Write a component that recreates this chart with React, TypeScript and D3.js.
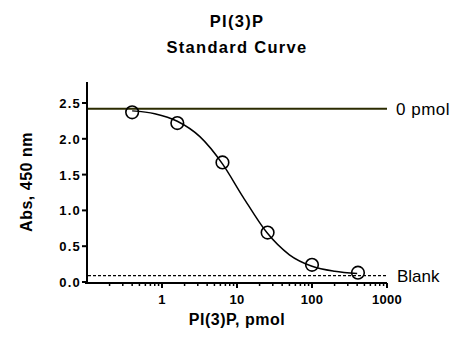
import React from "react";
import * as d3 from "d3";

const pointX = [0.4, 1.6, 6.4, 25.6, 100, 410];
const pointY = [2.37, 2.22, 1.67, 0.69, 0.24, 0.13];
const curveX = [0.4, 0.8, 1.6, 3.2, 6.4, 12, 25, 50, 100, 200, 400];
const curveY = [2.39, 2.35, 2.245, 2.03, 1.65, 1.19, 0.69, 0.38, 0.22, 0.15, 0.12];
const zeroPmol = 2.42;
const blank = 0.088;
const yTicks = [0, 0.5, 1.0, 1.5, 2.0, 2.5];
const xMajor = [1, 10, 100, 1000];

export default function App() {
  const W = 468, H = 344;
  const x = d3.scaleLog().domain([0.1, 1000]).range([87, 387]);
  const y = d3.scaleLinear().domain([0, 2.5]).range([282, 103]);
  const minor: number[] = [];
  for (let e = -1; e < 3; e++) {
    for (let k = 2; k <= 9; k++) minor.push(k * Math.pow(10, e));
  }
  const line = d3
    .line<number>()
    .x((_, i) => x(curveX[i]))
    .y((d) => y(d))
    .curve(d3.curveMonotoneX);
  const font = "'Liberation Sans', Arial, sans-serif";
  return (
    <svg width={W} height={H} style={{ position: "absolute", left: 0, top: 0 }} fontFamily={font}>
      <rect width={W} height={H} fill="#fff" />
      <text x={237} y={27} textAnchor="middle" fontSize={16.5} fontWeight="bold" letterSpacing={1.3}>PI(3)P</text>
      <text x={237} y={53} textAnchor="middle" fontSize={16.5} fontWeight="bold" letterSpacing={1.3}>Standard Curve</text>
      {/* y axis */}
      <line x1={87} x2={87} y1={82} y2={283} stroke="#000" strokeWidth={2} />
      {yTicks.map((t) => (
        <g key={t}>
          <line x1={82} x2={87} y1={y(t)} y2={y(t)} stroke="#000" strokeWidth={2} />
          <text x={81} y={y(t) + 5} textAnchor="end" fontSize={13} fontWeight="bold" letterSpacing={1.2}>{t.toFixed(1)}</text>
        </g>
      ))}
      {/* x axis */}
      <line x1={85} x2={387} y1={283} y2={283} stroke="#000" strokeWidth={2} />
      {minor.map((t) => (
        <line key={t} x1={x(t)} x2={x(t)} y1={283} y2={286} stroke="#000" strokeWidth={1.5} />
      ))}
      {xMajor.map((t) => (
        <g key={t}>
          <line x1={x(t)} x2={x(t)} y1={283} y2={288} stroke="#000" strokeWidth={2} />
          <text x={x(t)} y={304} textAnchor="middle" fontSize={13} fontWeight="bold" letterSpacing={0.3}>{t}</text>
        </g>
      ))}
      <text x={237} y={325} textAnchor="middle" fontSize={16} fontWeight="bold" letterSpacing={0.5}>PI(3)P, pmol</text>
      <text transform={`translate(32,182) rotate(-90)`} textAnchor="middle" fontSize={16} fontWeight="bold" letterSpacing={0.5}>Abs, 450 nm</text>
      {/* reference lines */}
      <line x1={88} x2={387} y1={y(zeroPmol)} y2={y(zeroPmol)} stroke="#2b2b00" strokeWidth={2} />
      <line x1={88} x2={387} y1={y(blank)} y2={y(blank)} stroke="#000" strokeWidth={1.3} strokeDasharray="3,2" />
      <text x={396} y={y(zeroPmol) + 6} fontSize={17} letterSpacing={0.5}>0 pmol</text>
      <text x={397} y={y(blank) + 6} fontSize={17}>Blank</text>
      <path d={line(curveY) || ""} fill="none" stroke="#000" strokeWidth={1.5} />
      {pointX.map((px, i) => (
        <circle key={i} cx={x(px)} cy={y(pointY[i])} r={6.3} fill="none" stroke="#000" strokeWidth={1.6} />
      ))}
    </svg>
  );
}
